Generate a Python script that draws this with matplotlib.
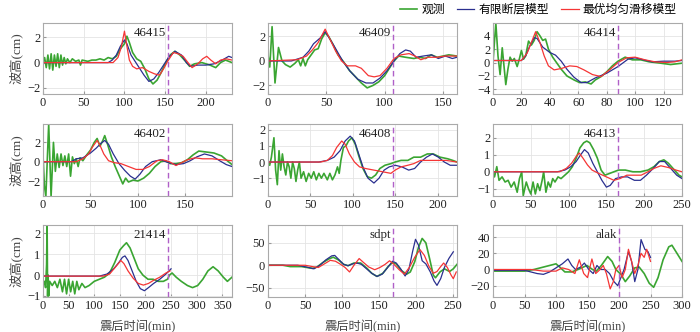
import numpy as np
import matplotlib
matplotlib.use("Agg")
import matplotlib.pyplot as plt

plt.rcParams['font.family'] = ['Liberation Serif', 'Noto Sans CJK SC']
plt.rcParams['axes.unicode_minus'] = True

# station names and time of the dashed marker (min)
stations = ['46415', '46409', '46414', '46402', '46408', '46413', '21414', 'sdpt', 'alak']
marks = [154, 107, 88, 132, 148, 166, 245, 169, 200]

# (time min, height): obs = 观测, ff = 有限断层模型, us = 最优均匀滑移模型
obs_46415 = [(0, 0), (2, 0.4), (4, -0.4), (6, 0.6), (8, -0.5), (10, 0.7), (12, -0.6), (14, 0.6), (16, -0.3),
             (18, 0.7), (20, -0.4), (22, 0.6), (24, -0.2), (26, 0.4), (28, -0.1), (30, 0.3), (33, 0.0), (36, 0.3),
             (40, 0.1), (44, 0.2), (46, -0.2), (48, 0.2), (55, 0.1), (60, 0.2), (65, 0.2), (70, 0.3), (75, 0.2),
             (80, 0.4), (85, 0.3), (90, 0.5), (95, 1.1), (100, 1.5), (103, 2.1), (106, 1.6), (110, 0.8),
             (115, 0.3), (120, 0.1), (125, -0.5), (130, -1.3), (135, -1.7), (140, -1.4), (145, -0.8), (150, -0.1),
             (156, 0.6), (162, 0.9), (168, 0.6), (175, 0.1), (180, -0.3), (186, -0.1), (195, 0.0), (205, -0.2),
             (212, -0.4), (218, 0.0), (224, 0.2), (232, 0.0)]
ff_46415 = [(0, 0), (80, 0), (85, 0.2), (90, 0.6), (95, 1.3), (100, 1.8), (103, 1.5), (108, 0.6), (112, 0.2),
            (118, -0.4), (124, -1.0), (130, -1.5), (136, -1.3), (142, -0.8), (148, -0.2), (154, 0.4), (162, 0.9),
            (170, 0.6), (176, 0.0), (181, -0.3), (190, -0.2), (200, -0.2), (210, -0.1), (220, 0.2), (228, 0.5),
            (232, 0.4)]
us_46415 = [(0, 0), (86, 0), (92, 0.4), (96, 1.2), (100, 2.5), (103, 1.3), (106, 0.2), (110, -0.3), (115, -0.5),
            (122, -0.4), (130, -0.7), (137, -0.9), (143, -1.0), (148, -0.5), (153, 0.1), (160, 0.8), (166, 0.7),
            (172, 0.5), (178, 0.0), (183, -0.4), (190, -0.1), (196, 0.3), (201, 0.5), (206, 0.2), (212, -0.1),
            (218, 0.2), (225, 0.3), (232, 0.2)]

obs_46409 = [(0, 0.5), (1.5, -0.5), (3.5, 2.8), (6, -1.8), (9, 1.1), (12, 0.0), (15, -0.3), (19, -0.5),
             (23, -0.2), (26, 0.1), (28, -0.4), (30, 0.2), (32, -0.4), (34, 0.1), (37, 0.5), (40, 0.9), (43, 1.0),
             (46, 1.8), (49, 2.3), (52, 2.0), (56, 1.3), (60, 0.5), (65, -0.1), (70, -0.8), (75, -1.3), (80, -1.8),
             (85, -2.2), (90, -2.0), (95, -1.7), (100, -1.2), (104, -0.6), (108, 0.0), (112, 0.4), (118, 0.3),
             (125, 0.2), (130, 0.3), (135, 0.2), (140, 0.5), (145, 0.3), (150, 0.4), (155, 0.5), (162, 0.4)]
ff_46409 = [(0, 0), (20, 0), (30, 0.3), (35, 0.8), (39, 1.4), (45, 1.9), (49, 2.4), (53, 1.8), (58, 1.0),
            (64, 0.0), (70, -0.8), (77, -1.5), (84, -1.8), (90, -1.8), (96, -1.4), (102, -0.8), (108, 0.0),
            (113, 0.6), (118, 0.9), (122, 0.8), (127, 0.3), (133, 0.4), (140, 0.5), (146, 0.2), (152, 0.4),
            (158, 0.2), (162, 0.3)]
us_46409 = [(0, 0), (25, 0.1), (33, 0.4), (38, 0.9), (43, 1.5), (49, 2.6), (53, 1.8), (58, 0.8), (63, 0.0),
            (68, -0.4), (75, -0.4), (80, -0.6), (86, -1.2), (91, -1.3), (96, -1.2), (102, -0.6), (108, 0.2),
            (114, 0.5), (121, 0.6), (126, 0.4), (131, 0.1), (137, 0.3), (145, 0.3), (152, 0.4), (162, 0.4)]

obs_46414 = [(0, 0), (1, 3.0), (2, 5.9), (3.5, 1.0), (5, -1.8), (6.5, 2.2), (9, -3.3), (10.5, -1.0), (12, 0.8),
             (13.5, 0.2), (15, 0.6), (17, -0.6), (18.5, 0.5), (20, 1.8), (21.5, 0.5), (23, 1.0), (25, 3.2),
             (27, 2.6), (29, 3.3), (31, 4.6), (33, 4.0), (35, 3.3), (37, 3.5), (39, 2.0), (42, 0.8), (45, -0.1),
             (48, -1.0), (52, -2.0), (57, -2.6), (61, -3.0), (65, -2.9), (69, -3.2), (72, -2.6), (76, -2.1),
             (80, -1.4), (84, -0.5), (88, 0.2), (93, 0.8), (98, 0.4), (104, 0.4), (110, 0.1), (118, -0.1),
             (125, -0.3), (133, -0.1)]
ff_46414 = [(0, 0.3), (20, 0.3), (23, 1.0), (26, 2.5), (29, 3.7), (31, 3.6), (35, 2.3), (40, 1.5), (44, 1.1),
            (48, 0.2), (52, -1.0), (57, -2.2), (62, -3.0), (66, -3.0), (72, -2.3), (80, -1.6), (88, -0.6),
            (95, 0.5), (100, 0.7), (106, 0.4), (112, 0.1), (120, 0.2), (128, 0.2), (133, 0.3)]
us_46414 = [(0, 0.3), (20, 0.3), (24, 1.4), (27, 3.0), (30, 4.6), (33, 3.0), (36, 1.0), (39, -0.5),
            (43, -1.1), (48, -0.9), (54, -0.5), (59, -0.6), (64, -1.1), (70, -1.8), (76, -2.1), (82, -1.1),
            (88, 0.0), (94, 0.7), (100, 0.8), (107, 0.4), (114, 0.1), (122, 0.0), (128, 0.1), (133, 0.4)]

obs_46402 = [(0, 0.7), (1.5, -2.5), (3, -3.6), (6, 3.9), (8.5, -3.6), (11, 2.0), (13, -1.0), (15, 0.8),
             (17, -0.6), (19, 0.8), (21, -0.4), (23, 0.6), (25, -0.5), (27, 0.8), (29, -1.5), (31, 0.5), (33, -0.2),
             (35, 0.3), (37, -0.5), (39, 0.4), (42, 0.1), (46, 0.7), (50, 1.2), (54, 2.0), (57, 2.4), (60, 1.6),
             (63, 2.2), (65, 2.7), (68, 1.8), (72, 0.5), (76, -0.5), (80, -1.4), (84, -2.3), (87, -1.7),
             (90, -2.1), (95, -1.9), (100, -2.0), (106, -1.7), (112, -1.2), (118, -0.5), (124, 0.0), (129, 0.1),
             (134, -0.2), (140, -0.2), (146, -0.1), (152, 0.2), (158, 0.7), (164, 1.1), (172, 1.0), (180, 0.9),
             (188, 0.6), (194, 0.1), (199, -0.3)]
ff_46402 = [(0, 0), (30, 0), (35, 0.3), (42, 0.4), (50, 0.9), (56, 1.4), (61, 1.9), (65, 2.2), (69, 1.8),
            (74, 0.8), (80, -0.2), (86, -0.9), (92, -1.5), (97, -1.8), (102, -1.3), (108, -0.5), (115, 0.0),
            (124, 0.2), (132, -0.1), (140, -0.3), (148, -0.2), (155, 0.1), (162, 0.5), (170, 0.8), (178, 0.6),
            (186, 0.1), (193, -0.3), (199, -0.5)]
us_46402 = [(0, 0), (35, 0), (42, 0.3), (48, 0.8), (52, 1.5), (57, 2.2), (60, 1.7), (64, 0.8), (69, 0.1),
            (75, -0.1), (82, -0.2), (90, -0.5), (98, -0.8), (105, -0.8), (112, -0.5), (120, 0.1), (126, 0.2),
            (133, 0.0), (140, -0.4), (146, -0.1), (152, 0.2), (160, 0.4), (168, 0.3), (178, 0.3), (188, 0.2),
            (199, 0.1)]

obs_46408 = [(0, 0.0), (2, -0.2), (4, 0.3), (7, 1.5), (9, -0.5), (11, -1.4), (13, 0.7), (15, -0.5), (17, 0.5),
             (19, -0.3), (21, -0.8), (23, 0.0), (25, -0.3), (27, -1.0), (29, 0.0), (31, -0.4), (33, -1.2),
             (35, -0.5), (37, 0.0), (39, -1.0), (42, -0.6), (45, -1.2), (48, -0.7), (51, -1.0), (54, -0.6),
             (57, -1.1), (60, -0.7), (63, -1.0), (66, -0.7), (70, -1.1), (73, -0.7), (76, -1.1), (79, -0.8),
             (82, -0.3), (84, -0.7), (86, 0.1), (89, 0.9), (92, 1.0), (95, 1.3), (99, 1.5), (103, 1.1),
             (107, 0.4), (112, -0.4), (117, -0.9), (122, -1.0), (127, -0.8), (132, -0.4), (138, -0.2),
             (145, -0.1), (150, 0.0), (157, 0.1), (165, 0.1), (172, 0.3), (180, 0.3), (188, 0.5), (195, 0.5),
             (203, 0.3), (212, 0.2), (218, 0.1), (223, 0.0)]
ff_46408 = [(0, 0), (60, 0), (70, 0.1), (78, 0.3), (85, 0.7), (91, 1.3), (97, 1.6), (102, 1.3), (107, 0.5),
            (112, -0.3), (118, -1.0), (125, -1.3), (131, -1.0), (137, -0.5), (143, -0.3), (150, -0.2),
            (158, -0.3), (166, -0.5), (173, -0.4), (180, 0.0), (187, 0.3), (194, 0.5), (201, 0.3), (208, 0.0),
            (215, -0.2), (223, -0.2)]
us_46408 = [(0, 0), (62, 0), (70, 0.1), (76, 0.4), (81, 0.9), (87, 1.3), (91, 1.1), (96, 0.5), (102, 0.0),
            (108, -0.3), (115, -0.4), (125, -0.5), (135, -0.6), (145, -0.7), (150, -0.5), (157, -0.3),
            (165, -0.2), (172, -0.1), (180, 0.1), (190, 0.1), (200, 0.1), (210, 0.1), (223, 0.0)]

obs_46413 = [(0, 0), (2, -0.3), (5, 0.3), (8, -0.5), (12, -0.3), (16, -0.6), (20, -0.5), (24, -0.9), (28, -0.6),
             (32, -1.2), (35, -0.4), (38, 0.0), (40, -1.4), (44, -0.6), (47, -1.0), (50, -1.3), (53, -0.6),
             (56, -1.3), (59, -0.7), (62, -1.1), (65, -0.5), (67, 0.0), (70, -1.2), (73, -0.6), (76, -0.9),
             (79, -0.4), (82, -0.6), (86, -0.3), (90, -0.4), (95, -0.2), (100, 0.0), (105, 0.3), (110, 0.8),
             (115, 1.4), (120, 1.7), (124, 1.8), (128, 1.7), (133, 1.3), (138, 0.8), (143, 0.1), (148, -0.2),
             (154, -0.1), (160, 0.0), (166, 0.1), (175, 0.1), (185, 0.0), (195, 0.0), (205, 0.1), (213, 0.3),
             (220, 0.6), (226, 0.7), (232, 0.5), (240, 0.1), (246, -0.2), (250, -0.3)]
ff_46413 = [(0, 0), (85, 0), (95, 0.1), (103, 0.3), (110, 0.6), (116, 1.0), (121, 1.3), (126, 1.1),
            (132, 0.5), (138, 0.0), (144, -0.5), (150, -0.9), (155, -0.8), (162, -0.4), (170, -0.3),
            (178, -0.3), (187, -0.5), (195, -0.5), (203, -0.2), (212, 0.2), (220, 0.6), (227, 0.6),
            (235, 0.2), (243, -0.2), (250, -0.4)]
us_46413 = [(0, 0), (88, 0), (97, 0.2), (104, 0.5), (110, 0.9), (114, 1.1), (119, 0.8), (125, 0.4),
            (131, 0.1), (140, -0.1), (150, -0.3), (160, -0.5), (168, -0.4), (177, -0.2), (187, -0.2),
            (196, -0.2), (205, 0.0), (213, 0.2), (222, 0.35), (232, 0.25), (242, 0.1), (250, 0.0)]

obs_21414 = [(0, -0.5), (3, -0.3), (5, -0.6), (7, 0.5), (8, 2.5), (9, -1.0), (10, 0.0), (11, -1.0),
             (13, -0.3), (18, -0.5), (23, -0.3), (28, -0.6), (33, -0.2), (38, -0.8), (42, -0.2), (46, -0.9),
             (50, -0.2), (54, -0.8), (58, -0.3), (62, -0.9), (66, -0.3), (70, -0.7), (76, -0.4), (82, -0.6),
             (90, -0.5), (100, -0.3), (110, -0.2), (120, -0.1), (130, 0.1), (140, 0.6), (150, 1.2), (157, 1.4),
             (163, 1.55), (170, 1.3), (178, 0.8), (186, 0.3), (195, 0.0), (205, -0.2), (215, -0.2), (225, -0.3),
             (235, -0.3), (243, -0.2), (247, 0.0), (252, 0.1), (260, -0.1), (270, -0.3), (282, -0.5),
             (292, -0.6), (302, -0.5), (312, -0.2), (322, 0.2), (332, 0.4), (342, 0.2), (352, -0.1),
             (360, -0.3), (369, -0.1)]
ff_21414 = [(0, -0.05), (110, -0.05), (125, 0.05), (138, 0.3), (148, 0.6), (155, 0.85), (160, 0.92),
            (166, 0.7), (174, 0.2), (182, -0.3), (190, -0.65), (198, -0.75), (206, -0.6), (216, -0.4),
            (228, -0.2), (240, 0.05), (250, 0.3)]
us_21414 = [(0, -0.05), (118, -0.05), (130, 0.05), (142, 0.4), (152, 0.7), (158, 0.55), (166, 0.2),
            (176, -0.15), (186, -0.4), (196, -0.48), (206, -0.4), (216, -0.25), (228, -0.1), (240, 0.1),
            (248, 0.2)]

obs_sdpt = [(0, 0), (20, 0), (30, -3), (45, -3), (60, -7), (66, -4), (74, 6), (82, 14), (88, 18), (95, 12),
            (102, 2), (108, -1), (116, 5), (125, 5), (133, -6), (140, -18), (147, -25), (155, -18), (162, -3),
            (168, 6), (173, 3), (180, -12), (187, -20), (192, -15), (198, 8), (203, 40), (208, 60), (213, 50),
            (218, 15), (223, -22), (226, -28), (232, -15), (238, -8), (245, -14), (250, -8), (255, 2)]
ff_sdpt = [(0, 0), (40, 0), (52, -4), (62, -8), (70, 0), (78, 12), (86, 21), (90, 22), (96, 12), (102, 2),
           (108, -1), (114, 3), (120, 5), (126, 2), (133, -8), (140, -18), (147, -25), (154, -20), (161, -6),
           (168, 9), (173, 5), (179, -8), (185, -24), (190, -10), (195, 30), (199, 58), (203, 45), (208, 10),
           (213, 3), (219, -15), (224, -35), (228, -45), (233, -30), (238, -5), (244, 15), (250, 30)]
us_sdpt = [(0, 0), (50, 0), (60, -3), (68, -5), (76, 3), (84, 11), (91, 9), (98, 2), (104, -5), (110, -15),
           (116, 0), (123, 15), (129, 6), (136, -4), (144, -10), (151, -5), (158, 2), (164, 10), (170, 2),
           (177, -10), (184, -20), (191, -4), (198, 18), (205, 35), (211, 22), (217, -2), (223, -18),
           (228, -14), (233, -3), (237, 5), (242, -5), (247, -22), (250, -30), (254, -15)]

obs_alak = [(0, -2), (50, -2), (65, 0), (80, 3), (100, 7), (106, 3), (114, -3), (125, -3), (135, 0),
            (149, 5), (158, 0), (164, -2), (172, 5), (182, 16), (189, 10), (195, 0), (203, -6), (210, -15),
            (217, -8), (225, 2), (232, 3), (240, -5), (248, -17), (255, -22), (262, -10), (270, 12), (279, 28),
            (284, 30), (292, 20), (300, 10)]
ff_alak = [(0, -1), (50, -1), (60, -3), (70, -5), (80, -6), (90, -3), (100, 2), (110, 7), (119, 13),
           (125, 5), (131, 0), (139, 3), (145, 8), (152, 0), (159, -5), (165, 5), (171, 0), (178, 0),
           (185, -5), (192, -15), (198, -20), (203, -10), (208, 0), (215, 22), (220, 10), (225, -15), (230, 0),
           (235, 37), (241, 25), (246, 22), (250, 15)]
us_alak = [(0, 0), (60, 0), (80, -2), (100, -2), (110, 2), (120, 0), (130, -5), (137, 12), (144, -5),
           (150, -10), (157, 13), (163, -5), (170, 0), (175, 5), (180, -5), (186, -24), (191, -15), (195, 0),
           (200, 5), (205, -10), (210, 0), (215, 25), (220, 10), (225, -5), (230, 5), (235, 20), (240, 15),
           (244, 25), (250, 10)]

obs_all = [obs_46415, obs_46409, obs_46414, obs_46402, obs_46408, obs_46413, obs_21414, obs_sdpt, obs_alak]
ff_all = [ff_46415, ff_46409, ff_46414, ff_46402, ff_46408, ff_46413, ff_21414, ff_sdpt, ff_alak]
us_all = [us_46415, us_46409, us_46414, us_46402, us_46408, us_46413, us_21414, us_sdpt, us_alak]

xlims = [(0, 232), (0, 162), (0, 133), (0, 199), (0, 223), (0, 250), (0, 369), (0, 255), (0, 300)]
ylims = [(-2.5, 3.15), (-2.7, 3.1), (-4.7, 5.9), (-3.55, 3.9), (-2.1, 2.35), (-1.42, 2.8), (-1.05, 2.4),
         (-71, 90), (-34, 55)]
xticks = [range(0, 201, 50), range(0, 151, 50), range(0, 121, 20), range(0, 151, 50), range(0, 201, 50),
          range(0, 251, 50), range(0, 351, 50), range(0, 251, 50), range(0, 301, 50)]
yticks = [[-2, 0, 2], [-2, 0, 2], [-4, -2, 0, 2, 4], [-2, 0, 2], [-1, 0, 1, 2], [-1, 0, 1, 2],
          [-1, 0, 1, 2], [-50, 0, 50], [-20, 0, 20, 40]]

green = '#3aa532'
blue = '#2a2f8f'
red = '#f53535'

fig = plt.figure(figsize=(7, 3.32), dpi=100)
lefts = [43, 268, 493]
tops = [23, 124, 225]
heights = [71, 72, 72]
W, H = 700, 332

for i in range(9):
    r, c = divmod(i, 3)
    ax = fig.add_axes([lefts[c] / W, 1 - (tops[r] + heights[r]) / H, 189 / W, heights[r] / H])
    o = np.array(obs_all[i])
    f = np.array(ff_all[i])
    u = np.array(us_all[i])
    l1, = ax.plot(o[:, 0], o[:, 1], color=green, lw=1.2, label='观测')
    l2, = ax.plot(f[:, 0], f[:, 1], color=blue, lw=0.9, label='有限断层模型')
    l3, = ax.plot(u[:, 0], u[:, 1], color=red, lw=0.9, label='最优均匀滑移模型')
    ax.axvline(marks[i], color='#b060c8', lw=1.0, ls=(0, (4, 2.5)))
    ax.text(marks[i] - xlims[i][1] * 0.012, 0.94, stations[i], transform=ax.get_xaxis_transform(),
            ha='right', va='top', fontsize=9.3, color='#222222')
    ax.set_xlim(*xlims[i])
    ax.set_ylim(*ylims[i])
    ax.set_xticks(list(xticks[i]))
    ax.set_yticks(yticks[i])
    ax.grid(True, color='#e4e4e4', lw=0.6)
    ax.set_axisbelow(True)
    ax.tick_params(labelsize=9, length=2, direction='in', color='#999999', pad=2, labelcolor='#222222')
    for s in ax.spines.values():
        s.set_color('#aaaaaa')
        s.set_linewidth(0.8)
    if c == 0:
        ax.set_ylabel('波高(cm)', fontsize=9.5, labelpad=3, color='#444444')
    if r == 2:
        ax.set_xlabel('震后时间(min)', fontsize=8.8, color='#444444', labelpad=6)

fig.legend(handles=[l1, l2, l3], loc='upper right', bbox_to_anchor=(0.982, 1.02), ncol=3, frameon=False,
           fontsize=8.5, handlelength=1.5, columnspacing=1.0, handletextpad=0.35)

fig.savefig('out.png', dpi=100)
